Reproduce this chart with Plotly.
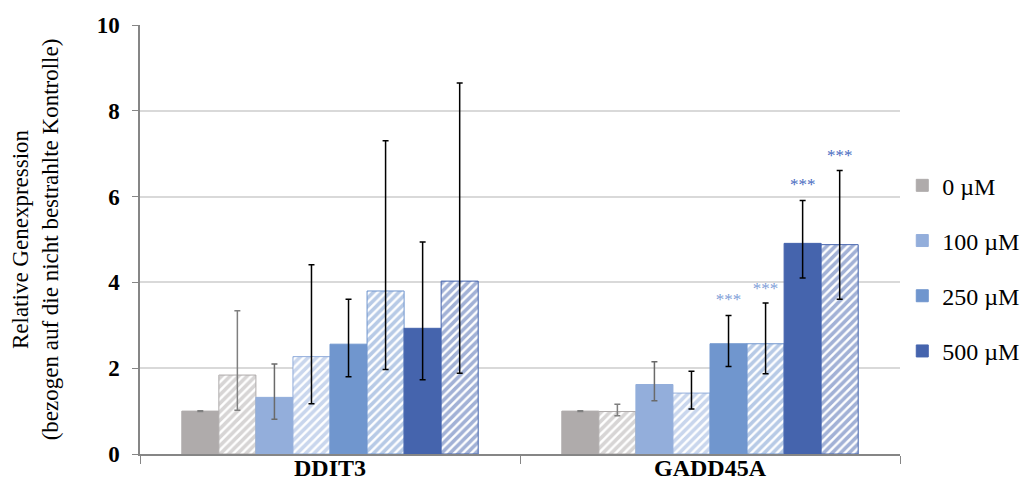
import plotly.graph_objects as go

genes = ["DDIT3", "GADD45A"]
series_names = ["0 µM", "0 µM (h)", "100 µM", "100 µM (h)", "250 µM", "250 µM (h)", "500 µM", "500 µM (h)"]
legend_labels = ["0 µM", "100 µM", "250 µM", "500 µM"]

# mean values per series (DDIT3, GADD45A)
v_0 = [1.00, 1.00]
v_0h = [1.84, 0.99]
v_100 = [1.32, 1.62]
v_100h = [2.27, 1.42]
v_250 = [2.56, 2.57]
v_250h = [3.80, 2.57]
v_500 = [2.93, 4.91]
v_500h = [4.03, 4.88]

# upper error bar ends
up_0 = [1.01, 1.01]
up_0h = [3.34, 1.16]
up_100 = [2.10, 2.15]
up_100h = [4.41, 1.93]
up_250 = [3.61, 3.23]
up_250h = [7.30, 3.52]
up_500 = [4.94, 5.91]
up_500h = [8.65, 6.61]

# lower error bar ends
lo_0 = [0.99, 0.99]
lo_0h = [1.02, 0.89]
lo_100 = [0.81, 1.24]
lo_100h = [1.17, 1.05]
lo_250 = [1.80, 2.04]
lo_250h = [1.97, 1.87]
lo_500 = [1.73, 4.10]
lo_500h = [1.88, 3.61]

# significance marks (text, y position)
sig_text_250 = ["", "***"]
sig_y_250 = [None, 3.58]
sig_text_250h = ["", "***"]
sig_y_250h = [None, 3.84]
sig_text_500 = ["", "***"]
sig_y_500 = [None, 6.25]
sig_text_500h = ["", "***"]
sig_y_500h = [None, 6.94]

values = [v_0, v_0h, v_100, v_100h, v_250, v_250h, v_500, v_500h]
uppers = [up_0, up_0h, up_100, up_100h, up_250, up_250h, up_500, up_500h]
lowers = [lo_0, lo_0h, lo_100, lo_100h, lo_250, lo_250h, lo_500, lo_500h]
sig_texts = [["", ""], ["", ""], ["", ""], ["", ""], sig_text_250, sig_text_250h, sig_text_500, sig_text_500h]
sig_ys = [[None, None], [None, None], [None, None], [None, None], sig_y_250, sig_y_250h, sig_y_500, sig_y_500h]

colors = ["#AFABAB", "#AFABAB", "#93AEDB", "#93AEDB", "#7096CE", "#7096CE", "#4564AD", "#4564AD"]
err_colors = ["#7F7F7F", "#7F7F7F", "#6A6A6A", "#000000", "#000000", "#000000", "#000000", "#000000"]
sig_colors = ["#000", "#000", "#000", "#000", "#7FA0D8", "#7FA0D8", "#4A6CBF", "#4A6CBF"]
hatched = [False, True, False, True, False, True, False, True]

serif = "Liberation Serif, Times New Roman, serif"
bargap = 0.22

fig = go.Figure()
li = 0
for i in range(8):
    vals = values[i]
    plus = [u - v for u, v in zip(uppers[i], vals)]
    minus = [v - l for v, l in zip(vals, lowers[i])]
    if hatched[i]:
        marker = dict(color="white", line=dict(color=colors[i], width=1),
                      pattern=dict(shape="/", fgcolor=colors[i], bgcolor="white", size=6, solidity=0.6))
        showlegend = False
        name = series_names[i]
        lg = "h%d" % i
    else:
        marker = dict(color=colors[i], line=dict(color=colors[i], width=1))
        showlegend = True
        name = legend_labels[li]
        lg = "s%d" % i
        li += 1
    fig.add_trace(go.Bar(
        x=genes, y=vals, name=name, marker=marker, showlegend=showlegend,
        legendgroup=lg, offsetgroup="g%d" % i,
        error_y=dict(type="data", symmetric=False, array=plus, arrayminus=minus,
                     color=err_colors[i], thickness=1.5, width=3),
    ))

for i in range(8):
    fig.add_trace(go.Scatter(
        x=genes, y=sig_ys[i], text=sig_texts[i], mode="text",
        textposition="middle center", offsetgroup="g%d" % i,
        textfont=dict(family=serif, size=17, color=sig_colors[i]),
        showlegend=False, hoverinfo="skip",
    ))

fig.update_layout(
    width=1012, height=480,
    barmode="group", bargap=bargap, bargroupgap=0,
    scattermode="group", scattergap=bargap,
    plot_bgcolor="white", paper_bgcolor="white",
    margin=dict(l=132, r=120, t=17, b=34, autoexpand=False),
    font=dict(family=serif, color="black"),
    legend=dict(x=1.003, y=0.433, xanchor="left", yanchor="middle",
                font=dict(family=serif, size=24), tracegroupgap=21,
                itemwidth=30, bgcolor="rgba(0,0,0,0)"),
    xaxis=dict(
        type="category", showline=True, linecolor="#868686", linewidth=1.5,
        ticks="outside", tickson="boundaries", ticklen=8, tickcolor="#868686",
        ticklabelstandoff=-9,
        tickfont=dict(family=serif, size=24, color="black", weight="bold"),
        showgrid=False, automargin=False,
    ),
    yaxis=dict(
        range=[0, 10], dtick=2, showline=True, linecolor="#868686", linewidth=1.5,
        ticks="outside", ticklen=6, tickcolor="#868686", ticklabelstandoff=8,
        tickfont=dict(family=serif, size=23, color="black", weight="bold"),
        showgrid=True, gridcolor="#D9D9D9", gridwidth=1.5, zeroline=False,
        automargin=False,
        title=dict(text="Relative Genexpression<br>(bezogen auf die nicht bestrahlte Kontrolle)",
                   font=dict(family=serif, size=23, color="black"), standoff=34),
    ),
)

fig.write_html("out.html")
